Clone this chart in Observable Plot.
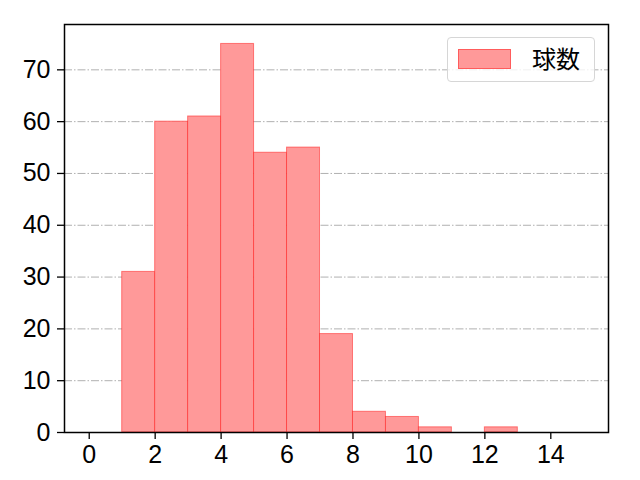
<!DOCTYPE html>
<html>
<head>
<meta charset="utf-8">
<script src="https://cdn.jsdelivr.net/npm/d3@7"></script>
<script src="https://cdn.jsdelivr.net/npm/@observablehq/plot@0.6"></script>
<style>
  body { margin: 0; background: #fff; }
  #wrap { position: relative; width: 640px; height: 480px; }
  #wrap svg text { font-family: "Liberation Sans", "Noto Sans CJK JP", sans-serif; font-size: 25px; }
  #legend {
    position: absolute; left: 447px; top: 37px; width: 148px; height: 45px;
    border: 1px solid #d6d6d6; border-radius: 4px; background: rgba(255,255,255,0.8);
    box-sizing: border-box; font-family: "Noto Sans CJK JP", sans-serif; font-size: 24px; color: #000;
  }
  #legend .patch {
    position: absolute; left: 10px; top: 11px; width: 53px; height: 20px;
    background: #ff9999; border: 1px solid rgba(255,0,0,0.4); box-sizing: border-box;
  }
  #legend .label { position: absolute; left: 84px; top: 4px; line-height: 32px; }
</style>
</head>
<body>
<div id="wrap"></div>
<script>
const binStart = [1, 2, 3, 4, 5, 6, 7, 8, 9, 10, 11, 12];
const counts = [31, 60, 61, 75, 54, 55, 19, 4, 3, 1, 0, 1];
const xTicks = [0, 2, 4, 6, 8, 10, 12, 14];
const yTicks = [0, 10, 20, 30, 40, 50, 60, 70];
const seriesName = "球数";

const bins = binStart.map((s, i) => ({x1: s, x2: s + 1, y: counts[i]})).filter(d => d.y > 0);

const chart = Plot.plot({
  width: 640,
  height: 480,
  marginLeft: 64,
  marginRight: 32,
  marginTop: 24,
  marginBottom: 48,
  style: {color: "#000", background: "#fff"},
  x: {domain: [-0.75, 15.75], label: null},
  y: {domain: [0, 78.75], label: null},
  marks: [
    Plot.gridY(yTicks, {stroke: "#b0b0b0", strokeOpacity: 1, strokeWidth: 1, strokeDasharray: "8,2,1.5,2"}),
    Plot.rectY(bins, {x1: "x1", x2: "x2", y: "y", fill: "#ff9999", stroke: "red", strokeOpacity: 0.45, strokeWidth: 1, inset: 0}),
    Plot.axisX({ticks: xTicks, tickSize: 7, tickPadding: 6, stroke: "#000", strokeWidth: 1.3}),
    Plot.axisY({ticks: yTicks, tickSize: 7, tickPadding: 7, stroke: "#000", strokeWidth: 1.3}),
    Plot.frame({stroke: "#000", strokeWidth: 1.5})
  ]
});
const wrap = document.getElementById("wrap");
wrap.appendChild(chart);
const legend = document.createElement("div");
legend.id = "legend";
legend.innerHTML = `<div class="patch"></div><div class="label">${seriesName}</div>`;
wrap.appendChild(legend);
</script>
</body>
</html>
